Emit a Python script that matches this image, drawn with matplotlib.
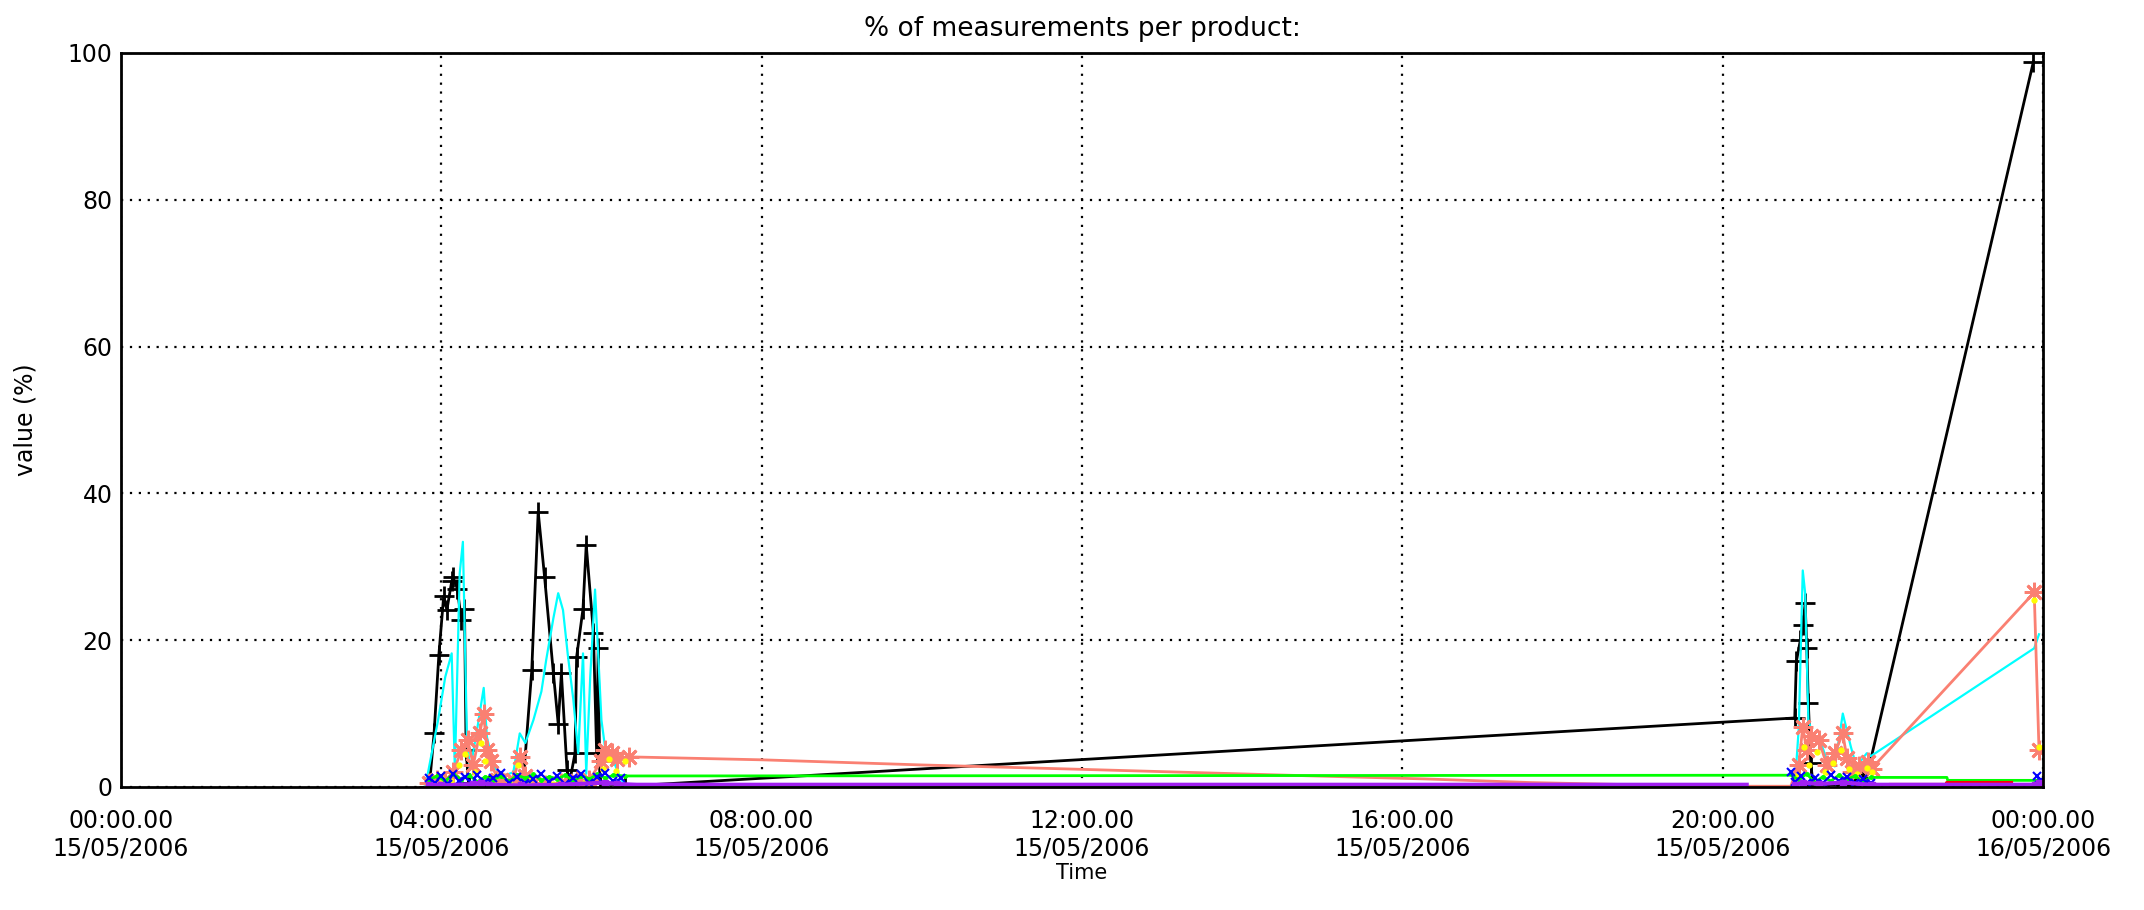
import numpy as np
import matplotlib
matplotlib.use("Agg")
import matplotlib.pyplot as plt
import matplotlib.dates as mdates

#======================================================================================
# data (hours after 15/05/2006 00:00, value in %)
#======================================================================================
black_t = [3.85, 3.91, 3.97, 4.03, 4.07, 4.13, 4.15, 4.20, 4.25, 4.29, 4.31, 4.34, 4.60, 4.95,
           5.02, 5.13, 5.21, 5.29, 5.40, 5.46, 5.50, 5.57, 5.60, 5.67, 5.69, 5.77, 5.81, 5.90,
           5.94, 5.96, 5.98, 6.30, 6.45, 20.90, 20.92, 20.97, 21.00, 21.03, 21.05, 21.07, 21.10,
           21.13, 21.60, 21.75, 21.78, 23.88]
black_v = [0.0, 7.3, 18.0, 26.0, 24.1, 28.0, 28.6, 27.0, 22.8, 24.3, 5.0, 0.5, 0.3, 0.5,
           0.2, 15.9, 37.5, 28.6, 15.5, 8.6, 15.5, 2.3, 0.5, 4.6, 17.7, 24.3, 33.0, 21.0,
           4.6, 18.9, 0.5, 0.2, 0.2, 9.4, 17.1, 20.0, 22.0, 25.0, 19.0, 11.4, 3.2,
           0.3, 0.3, 2.0, 0.5, 98.8]

cyan_t = [3.80, 3.96, 4.05, 4.13, 4.17, 4.23, 4.27, 4.32, 4.36, 4.45, 4.53, 4.57, 4.65, 4.75,
          4.90, 4.98, 5.05, 5.15, 5.25, 5.31, 5.40, 5.46, 5.52, 5.58, 5.65, 5.71, 5.77, 5.81,
          5.86, 5.92, 6.00, 6.05, 6.11, 6.23, 6.30, 20.90, 20.95, 21.00, 21.03, 21.07, 21.13,
          21.20, 21.30, 21.40, 21.50, 21.60, 21.67, 21.80, 21.85, 23.89, 23.95]
cyan_v = [0.0, 9.1, 15.0, 18.2, 2.3, 29.1, 33.4, 6.8, 2.3, 8.0, 13.5, 6.8, 3.0, 1.4,
          2.0, 7.3, 6.0, 9.1, 13.0, 17.3, 23.0, 26.4, 24.1, 18.0, 11.8, 4.6, 18.2, 1.8,
          15.0, 26.9, 9.1, 5.0, 4.6, 1.4, 0.0, 0.0, 8.0, 29.5, 26.4, 9.1, 6.9,
          6.9, 3.7, 2.8, 10.0, 5.5, 2.8, 4.6, 4.2, 18.9, 20.8]

salmon_t = [3.85, 3.95, 4.05, 4.15, 4.25, 4.33, 4.40, 4.48, 4.53, 4.57, 4.62, 4.70, 4.80, 4.90,
            4.98, 5.05, 5.15, 5.30, 5.50, 5.70, 5.85, 6.00, 6.05, 6.13, 6.20, 6.34, 8.00, 10.00,
            12.00, 14.90, 16.27, 17.60, 18.90, 20.30, 20.85, 20.95, 21.00, 21.05, 21.10, 21.20,
            21.30, 21.40, 21.50, 21.55, 21.62, 21.70, 21.82, 21.86, 23.89, 23.95]
salmon_v = [0.5, 1.0, 0.5, 2.0, 5.0, 6.4, 3.0, 7.3, 10.0, 5.0, 3.5, 1.0, 0.5, 1.0,
            4.1, 1.5, 0.5, 0.3, 0.5, 0.8, 1.0, 3.5, 5.0, 4.6, 3.8, 4.1, 3.7, 3.0,
            2.4, 1.5, 1.1, 0.6, 0.3, 0.1, 0.1, 3.0, 8.2, 5.0, 7.0, 6.4,
            3.0, 4.6, 7.3, 4.0, 2.0, 2.8, 3.4, 2.5, 26.5, 5.0]

yellow_t = [3.88, 4.00, 4.12, 4.22, 4.30, 4.42, 4.50, 4.55, 4.68, 4.85, 4.96, 5.10, 5.40, 5.80,
            6.02, 6.10, 6.18, 6.30, 20.92, 21.02, 21.08, 21.18, 21.28, 21.38, 21.48, 21.58,
            21.68, 21.80, 21.86, 23.89, 23.95]
yellow_v = [0.4, 1.2, 0.8, 3.0, 4.5, 2.0, 6.0, 3.5, 1.5, 0.6, 3.0, 1.0, 0.4, 0.7,
            2.5, 3.8, 2.2, 3.5, 1.5, 5.5, 3.0, 4.8, 2.0, 3.2, 5.0, 2.5,
            1.8, 2.6, 2.0, 25.5, 5.5]

green_t = [3.85, 3.95, 4.05, 4.15, 4.25, 4.35, 4.45, 4.55, 4.65, 4.75, 4.85, 4.95, 5.05, 5.15,
           5.25, 5.35, 5.45, 5.55, 5.65, 5.75, 5.85, 5.95, 6.05, 6.15, 6.30, 20.85, 20.95,
           21.05, 21.15, 21.25, 21.35, 21.45, 21.55, 21.65, 21.75, 21.85, 22.80, 22.81, 23.95]
green_v = [1.0, 1.5, 0.8, 1.8, 1.0, 1.6, 0.7, 1.4, 1.0, 1.5, 0.8, 1.6, 1.2, 1.7,
           0.9, 1.4, 1.1, 1.6, 0.8, 1.5, 1.1, 1.7, 1.2, 1.6, 1.5, 1.6, 1.0,
           1.8, 0.6, 1.4, 0.8, 1.6, 1.0, 1.5, 0.7, 1.3, 1.3, 0.9, 0.9]

blue_t = [3.85, 3.92, 4.00, 4.08, 4.15, 4.22, 4.30, 4.38, 4.45, 4.55, 4.65, 4.75, 4.85, 4.95,
          5.05, 5.15, 5.25, 5.35, 5.45, 5.55, 5.65, 5.75, 5.85, 5.95, 6.05, 6.15, 6.25, 6.26,
          20.85, 20.90, 20.98, 21.05, 21.15, 21.25, 21.35, 21.45, 21.55, 21.65, 21.75, 21.85,
          21.86, 23.93, 23.95, 23.97]
blue_v = [1.2, 0.6, 1.5, 0.4, 1.8, 0.8, 1.3, 0.5, 1.6, 0.7, 1.2, 1.9, 0.6, 1.4,
          0.5, 1.1, 1.8, 0.7, 1.5, 0.4, 1.2, 1.7, 0.6, 1.3, 1.9, 0.8, 1.2, np.nan,
          2.0, 0.7, 1.5, 0.5, 1.2, 0.6, 1.6, 0.8, 1.4, 0.6, 1.1, 0.5,
          np.nan, 1.5, 0.3, 1.0]

red_t = [22.10, 22.80, 22.80, 23.60]
red_v = [0.3, 0.3, 0.55, 0.55]

purple_t = [3.85, 4.00, 4.40, 4.50, 4.60, 5.00, 5.50, 6.05, 6.20, 6.44, 20.30, 20.31,
            20.90, 21.00, 21.20, 21.50, 21.85, 21.86, 23.90, 23.95]
purple_v = [0.3, 0.2, 0.4, 0.6, 0.3, 0.2, 0.3, 0.6, 0.4, 0.3, 0.3, np.nan,
            0.3, 0.6, 0.4, 0.6, 0.3, 0.3, 0.3, 0.6]

xtick_hours = [0, 4, 8, 12, 16, 20, 24]

#======================================================================================
# helpers
#======================================================================================
t0 = np.datetime64('2006-05-15T00:00:00')

def to_dt(hours):
    secs = np.round(np.asarray(hours, dtype=float) * 3600).astype(int)
    return (t0 + secs.astype('timedelta64[s]')).astype('datetime64[s]').astype(object)

def burst_idx(hours):
    # symbols only on the measurement bursts, not on the long joining lines
    return [i for i, h in enumerate(hours) if h < 6.36 or 20.85 < h < 21.9 or h > 23.8]

#======================================================================================
# plot
#======================================================================================
plt.rcParams['font.family'] = ['DejaVu Sans']

fig = plt.figure(figsize=(21.44, 9.10), dpi=100)
ax = fig.add_axes([0.0564, 0.1352, 0.8965, 0.8066])

ax.plot(to_dt(black_t), black_v, color='black', lw=2, marker='+', ms=14, mew=2,
        markevery=burst_idx(black_t))
ax.plot(to_dt(cyan_t), cyan_v, color='#00ffff', lw=1.6)
ax.plot(to_dt(salmon_t), salmon_v, color='#fa8072', lw=2, marker=(8, 2, 0), ms=14, mew=2,
        markevery=burst_idx(salmon_t))
ax.plot(to_dt(yellow_t), yellow_v, color='#ffff00', lw=0, marker='o', ms=3.5)
ax.plot(to_dt(green_t), green_v, color='#00ff00', lw=2, marker='.', ms=5,
        markevery=burst_idx(green_t))
ax.plot(to_dt(blue_t), blue_v, color='#0000ff', lw=1, marker='x', ms=6, mew=1.5)
ax.plot(to_dt(red_t), red_v, color='#ff0000', lw=3)
ax.plot(to_dt(purple_t), purple_v, color='#a020f0', lw=3, marker='s', ms=4,
        markevery=burst_idx(purple_t))

ax.set_xlim(to_dt([0])[0], to_dt([24])[0])
ax.set_ylim(0, 100)
ax.set_xticks(to_dt(xtick_hours))
ax.xaxis.set_major_formatter(mdates.DateFormatter('%H:%M.%S\n%d/%m/%Y'))
ax.set_yticks([0, 20, 40, 60, 80, 100])

ax.set_axisbelow(True)
ax.grid(True, color='black', lw=1.6, ls=(0, (1, 3)))
ax.tick_params(length=0, labelsize=17)
ax.tick_params(axis='x', pad=16)
ax.tick_params(axis='y', pad=6)
for lab in ax.get_xticklabels():
    lab.set_linespacing(1.15)
for s in ax.spines.values():
    s.set_linewidth(2)

ax.set_title('% of measurements per product:', fontsize=19, pad=12)
ax.set_ylabel('value (%)', fontsize=17, labelpad=22)
ax.set_xlabel('Time', fontsize=15, labelpad=2)

fig.savefig('out.png', dpi=100)
